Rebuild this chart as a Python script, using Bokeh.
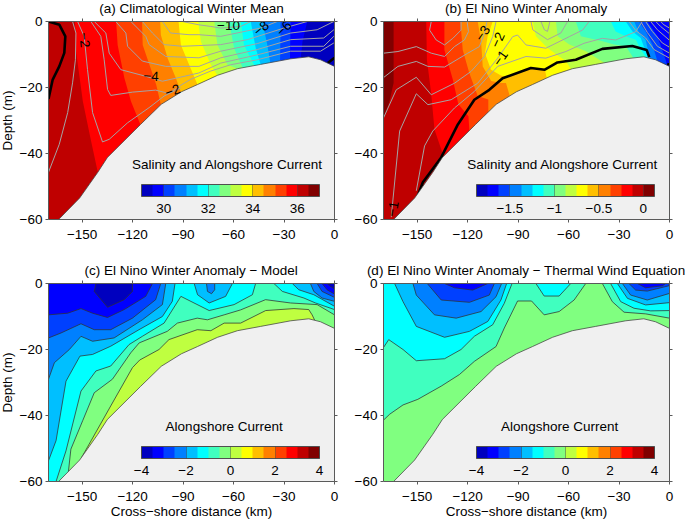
from bokeh.embed import file_html
from bokeh.resources import INLINE
from bokeh.models import (ColorBar, ColumnDataSource, FixedTicker, Label, LinearAxis,
                          LinearColorMapper, Range1d)
from bokeh.core.properties import value
from bokeh.layouts import column, row
from bokeh.plotting import figure

FONT = "Liberation Sans"
PALETTE = ["#0000bf", "#0000ff", "#0040ff", "#0080ff", "#00bfff", "#00ffff", "#40ffbf", "#80ff80",
           "#bfff40", "#ffff00", "#ffbf00", "#ff8000", "#ff4000", "#ff0000", "#bf0000", "#800000"]
C = dict(zip(["c0", "b0", "b1", "b2", "b3", "cy", "t", "g", "l", "y", "am", "o", "ro", "r", "dr", "mr"], PALETTE))

X_TICKS = [-150, -120, -90, -60, -30, 0]
Y_TICKS = [0, -20, -40, -60]
TITLES = ["(a) Climatological Winter Mean", "(b) El Nino Winter Anomaly",
          "(c) El Nino Winter Anomaly \u2212 Model", "(d) El Nino Winter Anomaly \u2212 Thermal Wind Equation"]

# sea floor
BATH_X = [-164, -151.5, -140.7, -135, -115.3, -103, -91, -81.4, -69.5, -57.7, -43.9, -26, -15.3, -8.3, 0, 0]
BATH_Z = [-60, -53.5, -45.7, -41.2, -31.2, -25.1, -21.3, -19.1, -16.3, -14.3, -13, -11.3, -10.7, -11.6, -13.6, -60]

# (a) salinity band boundaries
A1_X = [-154.2, -153.6, -149.6, -144.7, -140.7]; A1_Z = [0, -9.1, -24.2, -36.2, -45.7]
A2_X = [-129.8, -128.9, -124.9, -121, -115.4]; A2_Z = [0, -7.1, -17.1, -24.2, -31.2]
A3_X = [-114.4, -114, -110, -106, -103.2]; A3_Z = [0, -7.1, -13.1, -19.1, -25.2]
A4_X = [-103.6, -103.2, -99.2, -94.3, -91.3]; A4_Z = [0, -4.1, -11.1, -17.1, -21.4]
A5_X = [-92.7, -91.3, -86.4, -81.4]; A5_Z = [0, -7.1, -13.1, -19.2]
A6_X = [-81, -79.4, -73.5, -69.6]; A6_Z = [0, -6.1, -13.1, -16.3]
A7_X = [-71.5, -69.6, -63.6, -57.7]; A7_Z = [0, -7.1, -13.1, -14.3]
A8_X = [-62.6, -59.7, -54.7]; A8_Z = [0, -8.1, -13.9]
A9_X = [-55.7, -53.8, -47.8]; A9_Z = [0, -7.1, -13.2]
A10_X = [-49.8, -46.8, -43.9]; A10_Z = [0, -8.1, -13]
A11_X = [-42.9, -40, -38]; A11_Z = [0, -7, -13]
A12_X = [-32, -32.2, -32.4]; A12_Z = [0, -6, -13]
A13_X = [-26.1, -26.3, -26.5]; A13_Z = [0, -6, -12]
A14_X = [-16.2, -19, -20.2]; A14_Z = [0, -6, -11.5]
# (a) current contours
AG1_X = [-155.7, -153.7, -154, -155.7, -158.6, -163.6, -170]; AG1_Z = [0, -3.5, -11.6, -18.6, -27.6, -37.2, -45.7]
AG2_X = [-152.7, -148.8, -146.8, -143.8, -137.9, -133.9, -123, -110.2, -101.3, -91.4]
AG2_Z = [0, -4.5, -14.6, -27.6, -36.5, -35.7, -30.7, -26.1, -22.6, -20.1]
AG3_X = [-144.8, -138.9, -136.9, -134.9, -133, -120, -106.3, -98.4, -92, -85.4, -73.5, -61.7, -45.9, -26.1, -8.3, -0.4]
AG3_Z = [0, -4.5, -11.6, -20.6, -22.4, -21.4, -20.8, -21.8, -19.5, -17.5, -15, -13.1, -11.6, -9, -9, -6.5]
AG4_X = [-142.8, -135.9, -133.9, -127, -112.2, -102.3, -80.6, -67.6, -45.9, -26.1, -6.4, -0.4]
AG4_Z = [0, -3.5, -9.6, -14.6, -16.6, -18.1, -15.6, -12.6, -10.1, -7.5, -7.5, -4.5]
AG5_X = [-130, -124, -123, -114.2, -100.3, -80.6, -67.6, -45.9, -26.1, -6.4, -0.4]
AG5_Z = [0, -3.5, -7.5, -12, -13.6, -13.6, -11, -8.5, -5.5, -5, -2.5]
AG6_X = [-121, -112.2, -110.2, -100.3, -80.6, -67.6, -45.9, -26.1, -10.3, -0.4]
AG6_Z = [0, -4.5, -7, -10.6, -11, -9, -6.7, -3.5, -2.5, 0]
AG7_X = [-114.2, -108.2, -101.3, -90.5, -80.6, -67.6, -51.8, -30.1, -16.2]
AG7_Z = [0, -3.5, -7, -7.5, -7.3, -7, -5.5, -2, 0]
AG8_X = [-102.3, -97.4, -86.5, -80.6, -67.6, -43.9, -34]; AG8_Z = [0, -3.5, -4, -4, -4.5, -2, 0]
AG9_X = [-90.5, -80.6, -73.5, -67.6, -55.8, -49.8]; AG9_Z = [0, -1, -1.5, -2, -1.5, 0]
A0_X = [-170, -163.5, -160, -160.6, -163.6, -167.5, -170]; A0_Z = [0, -1, -4.5, -9.5, -13.6, -17.6, -23.5]
A0B_X = [-4, 0]; A0B_Z = [-12.6, -11]
A_LAB_X = [-148.6, -109, -96.2, -63, -43.5, -30]; A_LAB_Z = [-5.6, -16.6, -21, -1.1, -2.1, -2.1]
A_LAB_T = ["\u22122", "\u22124", "\u22122", "\u221210", "\u22128", "\u22126"]
A_LAB_ANG = [-85, -3, 20, 0, 40, 45]

# (b) salinity anomaly band boundaries
B1_X = [-164, -164, -166.4, -170]; B1_Z = [0, -18.6, -24.1, -29.5]
B2_X = [-144.6, -144.2, -141.7, -139.7, -134.7]; B2_Z = [0, -11.6, -21.6, -32.7, -40.2]
B3_X = [-133.8, -133.8, -128.8, -125.5, -119.5, -119]; B3_Z = [0, -8.6, -17.6, -25.1, -28.7, -32.7]
B4_X = [-124.3, -122.9, -119, -114, -107.7, -107.7]; B4_Z = [0, -8.6, -15.6, -22.6, -23.6, -26.1]
B5_X = [-114, -112, -111, -106, -100, -97.2, -95.2]; B5_Z = [0, -6, -13.6, -18, -18.6, -18.6, -22.1]
B6_X = [-105.1, -108.1, -109.7, -106.1, -100.2, -97.8, -82.4, -74.1, -72.9]
B6_Z = [0, -4.5, -9.6, -14.6, -16.4, -16.7, -14.1, -14.5, -17.4]
B7_X = [-81.3, -79.4, -72.5, -65.5, -61.6, -58.6]; B7_Z = [0, -4.5, -8, -10.6, -12, -14.4]
B8_X = [-67.5, -66.5, -59.6, -49.7, -41.8, -36.9]; B8_Z = [0, -4.5, -7, -9, -11.6, -13]
B9_X = [-55.7, -52.7, -39.8, -33, -26, -22, -21.7]; B9_Z = [0, -4.5, -6, -7, -7.5, -10.6, -11]
B10_X = [-34.9, -32, -26, -20, -17.1, -14.2]; B10_Z = [0, -3, -4.5, -5.5, -8.5, -10.6]
B11_X = [-26, -22, -17.1, -13.2]; B11_Z = [0, -3, -5, -10.5]
B12_X = [-21, -18.1, -14.2, -11.8]; B12_Z = [0, -3.5, -5.5, -11]
B13_X = [-18.1, -14.2, -10.2, -7.2]; B13_Z = [0, -3, -7, -12]
B14_X = [-13.2, -7.2, -2.3, -1.3]; B14_Z = [0, -4.5, -11.6, -13.6]
# (b) current contours
BH0_X = [-141.6, -142.6, -138.7, -133.7, -128.8, -123.9, -123.9]; BH0_Z = [0, -2.6, -5.6, -7.1, -5.1, -2.6, 0]
BH1_X = [-170, -161.4, -150.5, -141.6, -133.7, -127.8, -121.9, -119.5, -120.3]; BH1_Z = [-9.6, -9.1, -7.6, -9.6, -10.6, -7.6, -5.6, -3.1, 0]
BH2_X = [-170, -161.4, -150.5, -143.6, -133.7, -119.9, -113, -110, -108.5]; BH2_Z = [-17, -13.6, -12.1, -13.6, -13.8, -9.6, -7.6, -3.6, 0]
BH3_X = [-170, -162.4, -150.5, -141.6, -127.8, -117.9, -110, -105.1, -103.1]; BH3_Z = [-29.2, -20.7, -16.9, -22.2, -18.7, -15.1, -10.6, -4.6, 0]
BH4_X = [-165.4, -160.4, -150.5, -143.6, -129.8, -114, -102.1, -93.2, -90.3, -85.3, -79.4, -73.5, -59.6, -51.7, -47.8]
BH4_Z = [-59.3, -33.2, -21.9, -25.2, -23.7, -18.7, -11.1, -4.6, -4.1, -7.1, -7.6, -8.1, -4.6, -2.6, 0]
BH5_X = [-150.5, -145.6, -140.7, -127.8, -116, -102.1, -85.3, -73.5, -61.6, -50.8, -39.9, -32, -20.1, -16.2]
BH5_Z = [-51.3, -37.7, -33.2, -26.2, -21.2, -13.6, -10.6, -11.1, -9.1, -6.6, -5.1, -5.6, -3.1, 0]
BH6_X = [-82.3, -81.3, -72.5, -64.6, -60.6]; BH6_Z = [0, -2.5, -5.5, -3.5, 0]
BH7_X = [-76.4, -74.4, -72.5, -71.1]; BH7_Z = [0, -2.5, -3, 0]
BA1_X = [-24, -20.1, -14.2, -9.2, 0]; BA1_Z = [0, -2.7, -5, -8.5, -11.1]
BA2_X = [-17.1, -13.2, -7.2, 0]; BA2_Z = [0, -3.3, -7.5, -9.6]
BA3_X = [-14.2, -10.2, -4.3, 0]; BA3_Z = [0, -3, -6.5, -7.8]
BA4_X = [-11.2, -7.2, 0]; BA4_Z = [0, -2.5, -5.7]
BA5_X = [-8.2, -5.3, 0]; BA5_Z = [0, -1.5, -3.7]
BA6_X = [-5.3, -3.3, 0]; BA6_Z = [0, -1, -2]
B0_X = [-149.6, -146.6, -135.7, -125.8, -116, -107.1, -99.2, -82.4, -74.1, -66.6, -55.7, -39.9, -22.1, -13.6, -12]
B0_Z = [-52.8, -48.7, -41.2, -31.2, -23.7, -20.7, -17.2, -14.1, -14.6, -12.4, -11.6, -8.3, -7.4, -8.6, -10.8]
B0B_X = [-0.4, -0.8]; B0B_Z = [-12.6, -13.3]
B_LAB_X = [-111, -102.1, -100.5, -164.4]; B_LAB_Z = [-3.6, -5.6, -11.1, -56.8]
B_LAB_T = ["\u22123", "\u22122", "\u22121", "\u22121"]
B_LAB_ANG = [55, 65, 55, 80]

# (c) model alongshore current contours
CK0_X = [-150.3, -133, -120.1, -115.8, -104.3, -98.4, -81.6, -73.5, -65.6, -55.8, -40.9, -24.1, -15.3, -13.3, -11.9]
CK0_Z = [-52.7, -37.1, -25.5, -23.2, -20, -17, -14, -14.3, -12, -12, -8.2, -7.6, -7.9, -9.5, -11]
CF_X = [-158.2, -156.7, -149.7, -142.8, -132, -121.1, -116.1, -99.4, -93.4, -81.6, -75.5, -65.6, -55.8, -41, -26.1, -10.3, 0]
CF_Z = [-57.2, -50.2, -41.6, -33.1, -29, -21, -18, -14.5, -12, -10.5, -11, -9.5, -8, -4.9, -5.9, -6.4, -9.5]
CE_X = [-165.5, -159.6, -150.7, -141.8, -133, -122.1, -114.2, -101.3, -91.3, -74.5, -59.7, -48.8, -46.9]
CE_Z = [-60, -50.7, -32.6, -26.5, -25, -18.5, -16, -12, -3.9, -8.2, -6.4, -3.4, 0]
CD_X = [-170, -165.5, -159.6, -151.3, -143.8, -133, -116.2, -102.3, -96.4, -94.8]
CD_Z = [-53.7, -47.6, -29.6, -22, -21.5, -19, -14, -10, -5.4, 0]
CC_X = [-170, -166.5, -157.6, -150.7, -143.8, -131, -114.2, -102.3, -100.3]
CC_Z = [-29, -24, -20, -16, -17.5, -16.5, -11, -6.4, 0]
CB_X = [-170, -162.6, -150.7, -142.8, -133, -120.1, -106.3, -103.3]; CB_Z = [-16.5, -15, -12.2, -14, -14, -10.5, -4.9, 0]
CA_X = [-170, -158.6, -150.7, -143.8, -134.9, -125, -112.2, -108.2]; CA_Z = [-9.5, -9, -7.6, -9, -10.3, -7.9, -3.9, 0]
CL_X = [-141.8, -142.8, -134.9, -125, -120.1, -120.1]; CL_Z = [0, -2.4, -7.2, -4.9, -2.4, 0]
CM1_X = [-83.4, -81.4, -74.5, -64.7, -60.7]; CM1_Z = [0, -3.4, -5.9, -3.9, 0]
CM2_X = [-76.1, -75.5, -73.1, -71.2, -71.2]; CM2_Z = [0, -2.4, -3.1, -1.9, 0]
CR1_X = [-36, -31, -18.2, -11.3, 0, 0]; CR1_Z = [0, -2.4, -4.4, -5.9, -7.9, 0]
CR2_X = [-25.1, -21.2, -12.3, 0, 0]; CR2_Z = [0, -1.9, -3.4, -6.9, 0]
CR3_X = [-14.3, -12.3, -7.4, 0, 0]; CR3_Z = [0, -2.4, -4.4, -5.4, 0]
CR4_X = [-10.3, -7.4, 0, 0]; CR4_Z = [0, -2.4, -4.2, 0]
CR5_X = [-7.4, -4.4, 0, 0]; CR5_Z = [0, -1.9, -3.2, 0]
CR6_X = [-4.4, -2.4, 0, 0]; CR6_Z = [0, -0.9, -1.6, 0]

# (d) thermal wind current contours
DT_X = [-170, -166.3, -158.4, -149.6, -135.7, -124.9, -116, -103.1, -98.2, -90.3, -82, -74.5, -65.6, -56.7, -49.8]
DT_Z = [-41.4, -39.6, -36.8, -35.1, -31.1, -27.6, -23.6, -19.1, -13.5, -5.3, -5.3, -9.5, -8.5, -5, 0]
DTR_X = [-39.9, -34, -27, -14.2, 0, 0]; DTR_Z = [0, -5.5, -8.7, -9.2, -10.5, 0]
DC_X = [-170, -166.9, -158.4, -150.5, -133.7, -123.9, -116, -105.1, -98.2, -93.6]
DC_Z = [-19.4, -17, -20, -23.4, -22.8, -20, -16, -12.5, -6, 0]
DCM_X = [-79.4, -74.5, -65.6, -58.7]; DCM_Z = [0, -3.8, -3.8, 0]
DCR_X = [-35, -29, -21.1, -11.2, 0, 0]; DCR_Z = [0, -5.5, -7.5, -8.3, -8.2, 0]
DB3_X = [-163.4, -158.4, -150.5, -133.7, -118.9, -108, -100.2, -96.8]; DB3_Z = [0, -5.5, -13, -16.3, -14.5, -11.5, -5, 0]
DB3R_X = [-31, -25, -14.2, 0, 0]; DB3R_Z = [0, -4.5, -6.5, -5.8, 0]
DB2_X = [-152.5, -150.5, -139.7, -126.8, -112, -103.1, -99.8]; DB2_Z = [0, -3.5, -9.5, -10.5, -8.5, -4, 0]
DB2R_X = [-28, -23.1, -13.2, 0, 0]; DB2R_Z = [0, -3.5, -5, -3, 0]
DB1_X = [-144, -135.7, -118.9, -107.1, -104.1]; DB1_Z = [0, -5, -5.7, -3.5, 0]
DB1R_X = [-24.1, -20.1, -13.2, -0.4, 0]; DB1R_Z = [0, -2, -2.3, -0.7, 0]
DB0_X = [-133.7, -127.8, -117, -108]; DB0_Z = [0, -1.3, -2, 0]
DB0R_X = [-19.1, -14.2, -4.3, -2.3]; DB0R_Z = [0, -1.3, -0.7, 0]

# colour bars
BAR_A_TICKS = [30, 32, 34, 36]; BAR_A_LABELS = ["30", "32", "34", "36"]
BAR_B_TICKS = [-1.5, -1, -0.5, 0]; BAR_B_LABELS = ["\u22121.5", "\u22121", "\u22120.5", "0"]
BAR_C_TICKS = [-4, -2, 0, 2, 4]; BAR_C_LABELS = ["\u22124", "\u22122", "0", "2", "4"]

FS = "13.5px"


def panel(title, width, height, left, right, top, bottom, ylabel, xlabel, background, margin):
    p = figure(width=width, height=height, x_range=Range1d(-170, 0), y_range=Range1d(-60, 0),
               output_backend="svg", toolbar_location=None, min_border_left=left, min_border_right=right,
               min_border_top=top, min_border_bottom=bottom, background_fill_color=background,
               border_fill_color=None, outline_line_color=None, title=title, x_axis_type=None, y_axis_type=None,
               margin=margin)
    p.title.align = "center"
    p.title.vertical_align = "top"
    p.title.text_font = FONT
    p.title.text_font_size = FS
    p.title.text_font_style = "normal"
    p.title.text_color = "black"
    p.title.offset = 0
    p.title.standoff = 1
    p.grid.visible = False
    for place, ticks in (("below", X_TICKS), ("left", Y_TICKS), ("above", X_TICKS), ("right", Y_TICKS)):
        labelled = place in ("below", "left")
        ax = LinearAxis(ticker=FixedTicker(ticks=ticks),
                        major_label_overrides={t: (str(t).replace("-", "\u2212") if labelled else "") for t in ticks},
                        major_tick_in=0, major_tick_out=3, minor_tick_line_color=None,
                        axis_line_color="#5a5a5a", major_tick_line_color="#5a5a5a",
                        major_label_text_font=FONT,
                        major_label_text_font_size=FS if labelled else "0px",
                        major_label_text_color="black",
                        major_label_standoff=(7 if place == "below" else 3) if labelled else 0)
        text = ylabel if place == "left" else xlabel if place == "below" else None
        if text:
            ax.axis_label = text
            ax.axis_label_text_font = FONT
            ax.axis_label_text_font_size = FS
            ax.axis_label_text_font_style = "normal"
            ax.axis_label_text_color = "black"
            ax.axis_label_standoff = 2 if place == "left" else 0
        p.add_layout(ax, place)
    return p


def right_of(p, xs, zs, color):
    """Fill a band: everything to the right of a boundary reaching from the surface to the floor."""
    p.patch(xs + [xs[-1], 0, 0], zs + [-61, -61, 0], fill_color=color, line_color=None)


def filled(p, xs, zs, color):
    p.patch(xs, zs, fill_color=color, line_color="#303030", line_width=0.75)


def floor(p):
    p.patch(BATH_X, BATH_Z, fill_color="#f0f0f0", line_color="#404040", line_width=0.75)


def gray(p, pairs):
    for xs, zs in pairs:
        p.line(xs, zs, line_color="#a4a4a4", line_width=1)


def contour_labels(p, xs, zs, texts, angles):
    src = ColumnDataSource(dict(x=xs, y=zs, t=texts, a=angles))
    p.text("x", "y", text="t", angle="a", angle_units="deg", source=src, text_font=value(FONT),
           text_font_size=value(FS), text_color="black", text_align="center", text_baseline="middle")


def bar(p, low, high, ticks, labels, caption, cap_x):
    mapper = LinearColorMapper(palette=PALETTE, low=low, high=high)
    cb = ColorBar(color_mapper=mapper, orientation="horizontal", width=178, height=12, padding=0,
                  location=(93, 4), ticker=FixedTicker(ticks=ticks),
                  major_label_overrides=dict(zip(ticks, labels)), major_label_text_font=FONT,
                  major_label_text_font_size=FS, major_label_text_color="black", label_standoff=7,
                  major_tick_line_color="#404040", major_tick_line_alpha=0.45, major_tick_in=12, major_tick_out=0,
                  minor_tick_line_color=None, bar_line_color="#505050", bar_line_width=1,
                  border_line_color=None, background_fill_color=None)
    p.add_layout(cb, "center")
    p.add_layout(Label(x=cap_x, y=-43.2, text=caption, text_font=FONT, text_font_size=FS, text_color="black",
                       text_align="center", text_baseline="middle"))


# ---- (a)
a = panel(TITLES[0], 351, 262, 56, 9, 20, 43, "Depth (m)", None, C["dr"], (0, 0, 0, -8))
for xs, zs, col in [(A1_X, A1_Z, C["r"]), (A2_X, A2_Z, C["ro"]), (A3_X, A3_Z, C["o"]), (A4_X, A4_Z, C["am"]),
                    (A5_X, A5_Z, C["y"]), (A6_X, A6_Z, C["l"]), (A7_X, A7_Z, C["g"]), (A8_X, A8_Z, C["t"]),
                    (A9_X, A9_Z, C["cy"]), (A10_X, A10_Z, C["b3"]), (A11_X, A11_Z, C["b2"]), (A12_X, A12_Z, C["b1"]),
                    (A13_X, A13_Z, C["b0"]), (A14_X, A14_Z, C["c0"])]:
    right_of(a, xs, zs, col)
gray(a, [(AG1_X, AG1_Z), (AG2_X, AG2_Z), (AG3_X, AG3_Z), (AG4_X, AG4_Z), (AG5_X, AG5_Z), (AG6_X, AG6_Z),
         (AG7_X, AG7_Z), (AG8_X, AG8_Z), (AG9_X, AG9_Z)])
a.line(A0_X, A0_Z, line_color="black", line_width=2.6)
a.line(A0B_X, A0B_Z, line_color="black", line_width=2.6)
floor(a)
contour_labels(a, A_LAB_X, A_LAB_Z, A_LAB_T, A_LAB_ANG)
bar(a, 29, 37, BAR_A_TICKS, BAR_A_LABELS, "Salinity and Alongshore Current", -63.7)

# ---- (b)
b = panel(TITLES[1], 342, 262, 40, 16, 20, 43, None, None, C["mr"], (0, 0, 0, 0))
for xs, zs, col in [(B1_X, B1_Z, C["dr"]), (B2_X, B2_Z, C["r"]), (B3_X, B3_Z, C["ro"]), (B4_X, B4_Z, C["o"]),
                    (B5_X, B5_Z, C["am"]), (B6_X, B6_Z, C["y"]), (B7_X, B7_Z, C["l"]), (B8_X, B8_Z, C["g"]),
                    (B9_X, B9_Z, C["t"]), (B10_X, B10_Z, C["cy"]), (B11_X, B11_Z, C["b3"]), (B12_X, B12_Z, C["b2"]),
                    (B13_X, B13_Z, C["b1"]), (B14_X, B14_Z, C["b0"])]:
    right_of(b, xs, zs, col)
gray(b, [(BH0_X, BH0_Z), (BH1_X, BH1_Z), (BH2_X, BH2_Z), (BH3_X, BH3_Z), (BH4_X, BH4_Z), (BH5_X, BH5_Z),
         (BH6_X, BH6_Z), (BH7_X, BH7_Z), (BA1_X, BA1_Z), (BA2_X, BA2_Z), (BA3_X, BA3_Z), (BA4_X, BA4_Z),
         (BA5_X, BA5_Z), (BA6_X, BA6_Z)])
b.line(B0_X, B0_Z, line_color="black", line_width=2.6)
b.line(B0B_X, B0B_Z, line_color="black", line_width=2.6)
floor(b)
contour_labels(b, B_LAB_X, B_LAB_Z, B_LAB_T, B_LAB_ANG)
bar(b, -1.875, 0.125, BAR_B_TICKS, BAR_B_LABELS, "Salinity and Alongshore Current", -63.5)

# ---- (c)
c = panel(TITLES[2], 351, 259, 56, 9, 20, 40, "Depth (m)", "Cross\u2212shore distance (km)", C["g"], (0, 0, -2, -8))
filled(c, CK0_X, CK0_Z, C["l"])
filled(c, CF_X + [0, -170, -170, -158.2], CF_Z + [0, 0, -61, -61], C["t"])
filled(c, CE_X + [-170, -170], CE_Z + [0, -61], C["cy"])
filled(c, CR1_X, CR1_Z, C["cy"])
filled(c, CD_X + [-170], CD_Z + [0], C["b3"])
filled(c, CM1_X, CM1_Z, C["b3"])
filled(c, CR2_X, CR2_Z, C["b3"])
filled(c, CC_X + [-170], CC_Z + [0], C["b2"])
filled(c, CM2_X, CM2_Z, C["b2"])
filled(c, CR3_X, CR3_Z, C["b2"])
filled(c, CB_X + [-170], CB_Z + [0], C["b1"])
filled(c, CR4_X, CR4_Z, C["b1"])
filled(c, CA_X + [-170], CA_Z + [0], C["b0"])
filled(c, CR5_X, CR5_Z, C["b0"])
filled(c, CL_X, CL_Z, C["c0"])
filled(c, CR6_X, CR6_Z, C["c0"])
floor(c)
bar(c, -4, 4, BAR_C_TICKS, BAR_C_LABELS, "Alongshore Current", -65.6)

# ---- (d)
d = panel(TITLES[3], 342, 259, 40, 16, 20, 40, None, "Cross\u2212shore distance (km)", C["g"], (0, 0, -2, 0))
filled(d, DT_X + [-170], DT_Z + [0], C["t"])
filled(d, DTR_X, DTR_Z, C["t"])
filled(d, DC_X + [-170], DC_Z + [0], C["cy"])
filled(d, DCM_X, DCM_Z, C["cy"])
filled(d, DCR_X, DCR_Z, C["cy"])
filled(d, DB3_X, DB3_Z, C["b3"])
filled(d, DB3R_X, DB3R_Z, C["b3"])
filled(d, DB2_X, DB2_Z, C["b2"])
filled(d, DB2R_X, DB2R_Z, C["b2"])
filled(d, DB1_X, DB1_Z, C["b1"])
filled(d, DB1R_X, DB1R_Z, C["b1"])
filled(d, DB0_X, DB0_Z, C["b0"])
filled(d, DB0R_X, DB0R_Z, C["b0"])
floor(d)
bar(d, -4, 4, BAR_C_TICKS, BAR_C_LABELS, "Alongshore Current", -65.3)

page = column(row(a, b, spacing=0), row(c, d, spacing=0), spacing=0)
open("out.html", "w").write(file_html(page, INLINE))
